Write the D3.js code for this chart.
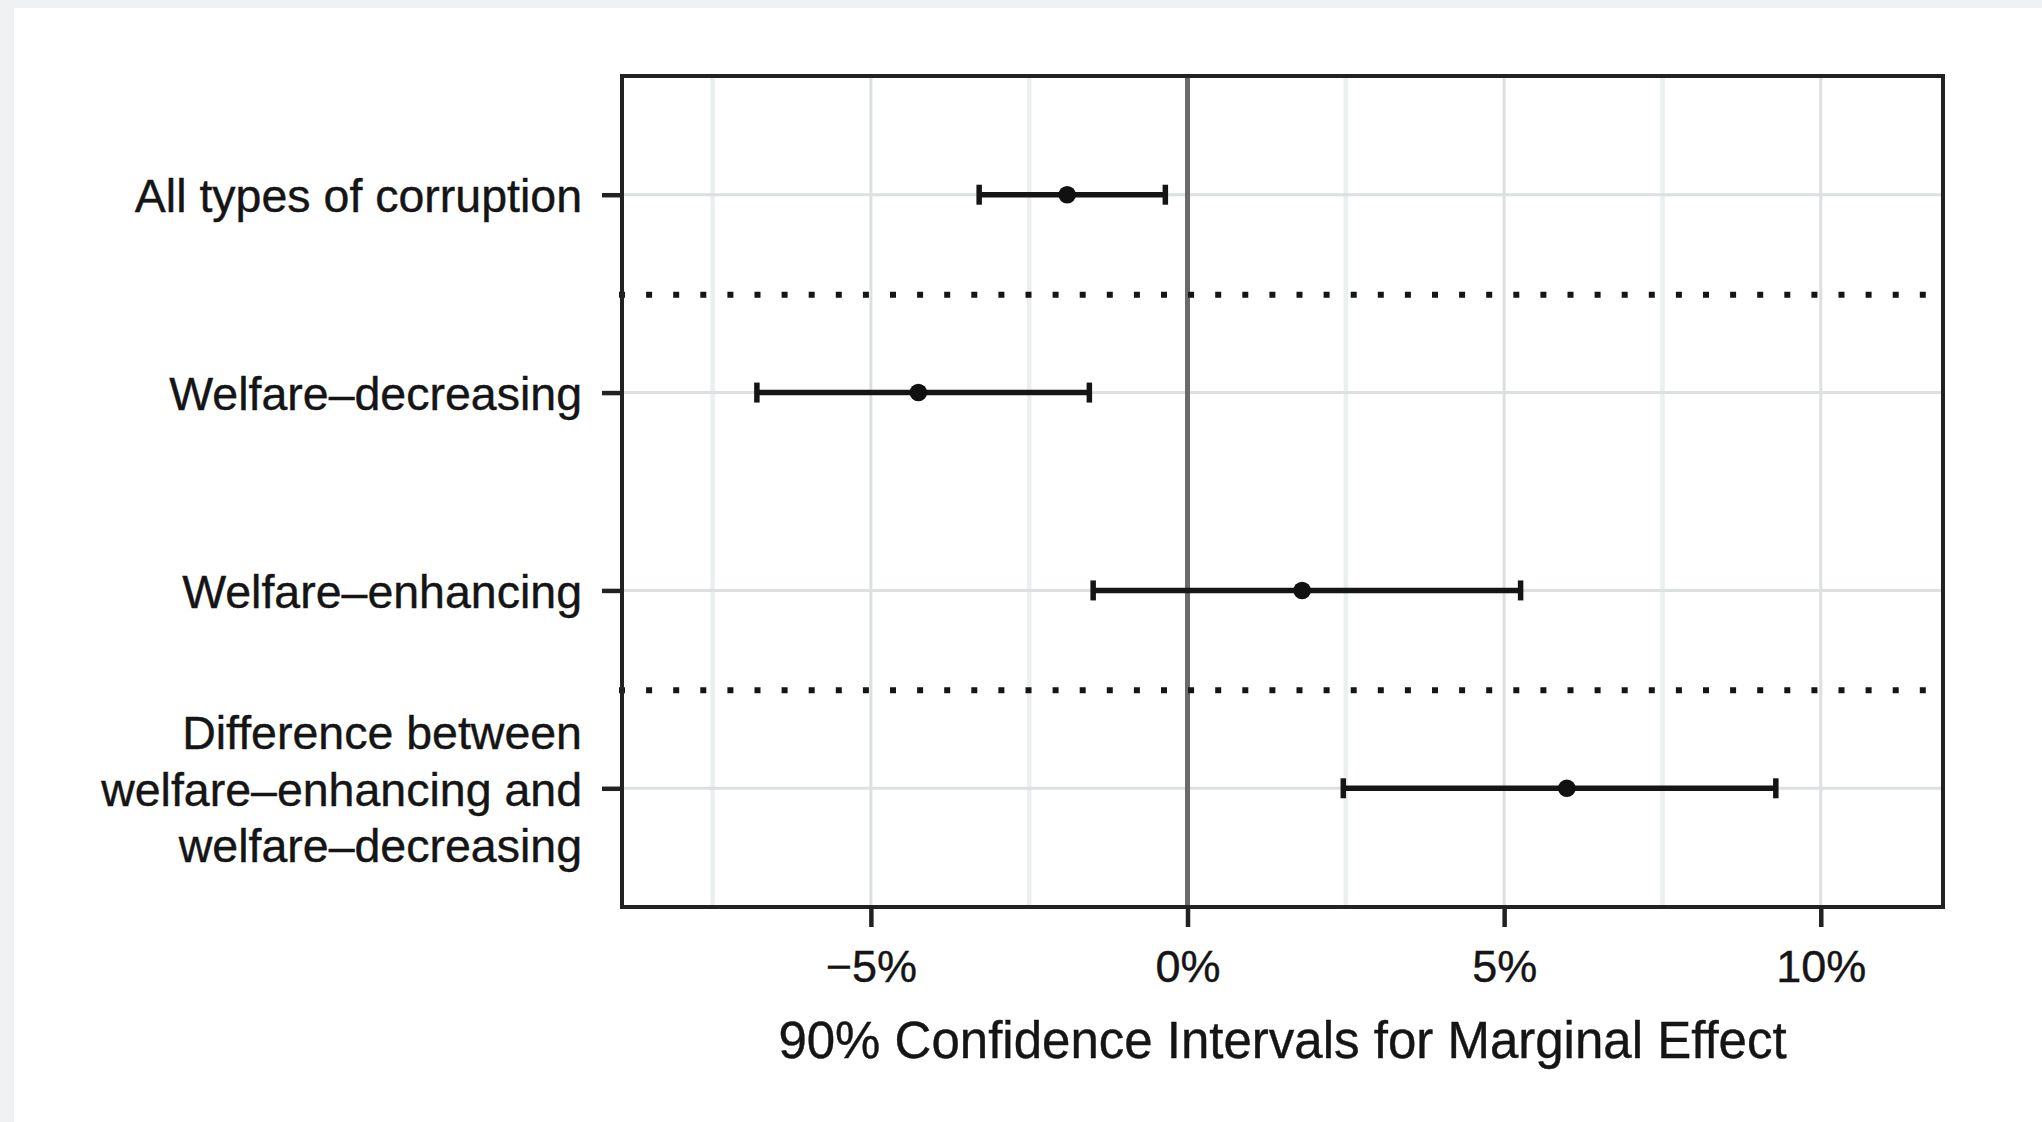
<!DOCTYPE html>
<html>
<head>
<meta charset="utf-8">
<script src="https://cdn.jsdelivr.net/npm/d3@7"></script>
<style>
  html, body { margin: 0; padding: 0; background: #f0f1f3; }
  svg { display: block; }
  text { font-family: "Liberation Sans", Arial, Helvetica, sans-serif; fill: #151515; }
</style>
</head>
<body>
<svg id="chart" width="2042" height="1122"></svg>
<script>
// ---- data ----
const categories = [
  "All types of corruption",
  "Welfare\u2013decreasing",
  "Welfare\u2013enhancing",
  "Difference between|welfare\u2013enhancing and|welfare\u2013decreasing"
];
const estimates = [-1.90, -4.25, 1.81, 5.99];
const lowerCI   = [-3.29, -6.80, -1.49, 2.46];
const upperCI   = [-0.35, -1.55, 5.26, 9.29];
const majorTicks = [-5, 0, 5, 10];
const minorTicks = [-7.5, -2.5, 2.5, 7.5];
const tickLabels = ["\u22125%", "0%", "5%", "10%"];
const separatorsAfter = [0, 2]; // dotted line after these category indices
const xTitle = "90% Confidence Intervals for Marginal Effect";

// ---- layout ----
const W = 2042, H = 1122;
const panel = { left: 622, right: 1943, top: 76, bottom: 907 };

const svg = d3.select("#chart");
svg.append("rect").attr("x", 0).attr("y", 0).attr("width", W).attr("height", H).attr("fill", "#f0f1f3");
svg.append("rect").attr("x", 14).attr("y", 8).attr("width", W - 14).attr("height", H - 8).attr("fill", "#ffffff");

const x = d3.scaleLinear().domain([-8.93, 11.93]).range([panel.left, panel.right]);
const y = d3.scalePoint().domain(categories).range([panel.top, panel.bottom]).padding(0.6);

const data = categories.map((c, i) => ({ cat: c, est: estimates[i], lo: lowerCI[i], hi: upperCI[i] }));

const g = svg.append("g");

// minor gridlines
g.selectAll(".minor").data(minorTicks).join("line")
  .attr("x1", d => x(d)).attr("x2", d => x(d))
  .attr("y1", panel.top).attr("y2", panel.bottom)
  .attr("stroke", "#ebefef").attr("stroke-width", 4.5);

// major vertical gridlines
g.selectAll(".majorv").data(majorTicks).join("line")
  .attr("x1", d => x(d)).attr("x2", d => x(d))
  .attr("y1", panel.top).attr("y2", panel.bottom)
  .attr("stroke", "#dce0e1").attr("stroke-width", 3);

// horizontal gridlines
g.selectAll(".majorh").data(categories).join("line")
  .attr("x1", panel.left).attr("x2", panel.right)
  .attr("y1", d => y(d)).attr("y2", d => y(d))
  .attr("stroke", "#dce0e1").attr("stroke-width", 3);

// zero line
g.append("line")
  .attr("x1", x(0)).attr("x2", x(0))
  .attr("y1", panel.top).attr("y2", panel.bottom)
  .attr("stroke", "#6a6a6a").attr("stroke-width", 5);

// dotted separators
const sepY = separatorsAfter.map(i => (y(categories[i]) + y(categories[i + 1])) / 2 + 1);
g.selectAll(".sep").data(sepY).join("line")
  .attr("x1", panel.left - 3).attr("x2", panel.right)
  .attr("y1", d => d).attr("y2", d => d)
  .attr("stroke", "#151515").attr("stroke-width", 6)
  .attr("stroke-dasharray", "6,21.1");

// error bars
const capH = 20;
const ebW = 5.5;
const eb = g.selectAll(".eb").data(data).join("g");
eb.append("line")
  .attr("x1", d => x(d.lo)).attr("x2", d => x(d.hi))
  .attr("y1", d => y(d.cat)).attr("y2", d => y(d.cat))
  .attr("stroke", "#151515").attr("stroke-width", ebW);
eb.append("line")
  .attr("x1", d => x(d.lo)).attr("x2", d => x(d.lo))
  .attr("y1", d => y(d.cat) - capH / 2).attr("y2", d => y(d.cat) + capH / 2)
  .attr("stroke", "#151515").attr("stroke-width", ebW);
eb.append("line")
  .attr("x1", d => x(d.hi)).attr("x2", d => x(d.hi))
  .attr("y1", d => y(d.cat) - capH / 2).attr("y2", d => y(d.cat) + capH / 2)
  .attr("stroke", "#151515").attr("stroke-width", ebW);
eb.append("circle")
  .attr("cx", d => x(d.est)).attr("cy", d => y(d.cat)).attr("r", 8.8)
  .attr("fill", "#111");

// panel border
svg.append("rect")
  .attr("x", panel.left).attr("y", panel.top)
  .attr("width", panel.right - panel.left).attr("height", panel.bottom - panel.top)
  .attr("fill", "none").attr("stroke", "#222").attr("stroke-width", 4);

// x axis
const xAxis = d3.axisBottom(x).tickValues(majorTicks)
  .tickFormat((d, i) => tickLabels[i]).tickSize(20).tickPadding(23).tickSizeOuter(0);
const gx = svg.append("g").attr("transform", `translate(0,${panel.bottom})`).call(xAxis);
gx.select(".domain").remove();
gx.selectAll(".tick line").attr("stroke", "#222").attr("stroke-width", 4.5);
gx.selectAll(".tick text").attr("font-size", 45).attr("fill", "#151515")
  .attr("stroke", "#151515").attr("stroke-width", 0.4)
  .style("font-family", '"Liberation Sans", Arial, sans-serif');

// y axis
const yAxis = d3.axisLeft(y).tickSize(20).tickPadding(20).tickFormat("");
const gy = svg.append("g").attr("transform", `translate(${panel.left},0)`).call(yAxis);
gy.select(".domain").remove();
gy.selectAll(".tick line").attr("stroke", "#222").attr("stroke-width", 4.5);
gy.selectAll(".tick").each(function(d) {
  const lines = d.split("|");
  const t = d3.select(this).append("text")
    .attr("x", -40).attr("text-anchor", "end")
    .attr("font-size", 46.5).attr("fill", "#151515")
    .attr("stroke", "#151515").attr("stroke-width", 0.4)
    .style("font-family", '"Liberation Sans", Arial, sans-serif');
  const lh = 56.5;
  const offset = -(lines.length - 1) / 2 * lh;
  lines.forEach((ln, k) => {
    t.append("tspan").attr("x", -40).attr("y", offset + k * lh).attr("dy", "0.36em").text(ln);
  });
});

// x title
svg.append("text")
  .attr("x", (panel.left + panel.right) / 2).attr("y", 1058)
  .attr("text-anchor", "middle").attr("font-size", 51)
  .attr("stroke", "#151515").attr("stroke-width", 0.4)
  .text(xTitle);
</script>
</body>
</html>
